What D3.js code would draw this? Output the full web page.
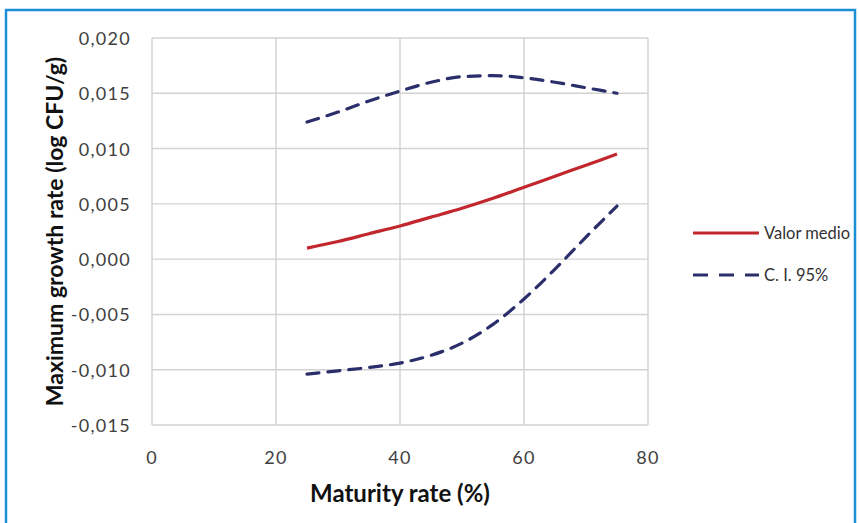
<!DOCTYPE html>
<html>
<head>
<meta charset="utf-8">
<script src="https://cdn.jsdelivr.net/npm/d3@7"></script>
<style>
  html, body { margin: 0; padding: 0; background: #fff; }
  svg { display: block; font-family: Lato, "Open Sans", sans-serif; }
</style>
</head>
<body>
<div id="chart"></div>
<script>
// Maturity rate (%) sampled every 5 points
const maturity = [25, 30, 35, 40, 45, 50, 55, 60, 65, 70, 75];
// mean growth rate
const valorMedio = [0.0010, 0.0016, 0.0023, 0.0030, 0.0038, 0.0046, 0.0055, 0.0065, 0.0075, 0.0085, 0.0095];
// 95% confidence interval bounds
const ciUpper = [0.0124, 0.0133, 0.0143, 0.0152, 0.0160, 0.0165, 0.0166, 0.0164, 0.0160, 0.0155, 0.0150];
const ciLower = [-0.0104, -0.0101, -0.0098, -0.0094, -0.0087, -0.0076, -0.0059, -0.0036, -0.0009, 0.0020, 0.0048];

const xTicks = [0, 20, 40, 60, 80];
const yTicks = [-0.015, -0.010, -0.005, 0.000, 0.005, 0.010, 0.015, 0.020];
const legendItems = [
  { label: "Valor medio", color: "#c1272d", dash: null },
  { label: "C. I. 95%", color: "#2a2e6a", dash: "15,11" }
];

const W = 859, H = 523;
const plot = { left: 152, right: 648, top: 38, bottom: 425 };

const svg = d3.select("#chart").append("svg")
  .attr("width", W).attr("height", H);

// outer blue frame
svg.append("rect")
  .attr("x", 6).attr("y", 10)
  .attr("width", W - 10).attr("height", H + 20)
  .attr("fill", "#fff")
  .attr("stroke", "#1b8fd5").attr("stroke-width", 2.5);

const x = d3.scaleLinear().domain([0, 80]).range([plot.left, plot.right]);
const y = d3.scaleLinear().domain([-0.015, 0.020]).range([plot.bottom, plot.top]);

// grid
const grid = svg.append("g").attr("class", "grid")
  .attr("stroke", "#d2d2d2").attr("stroke-width", 1.4);
grid.selectAll(".vline").data(xTicks).join("line")
  .attr("x1", d => x(d)).attr("x2", d => x(d))
  .attr("y1", plot.top).attr("y2", plot.bottom);
grid.selectAll(".hline").data(yTicks).join("line")
  .attr("x1", plot.left).attr("x2", plot.right)
  .attr("y1", d => y(d)).attr("y2", d => y(d));

// tick labels
const fmt = d => d3.format(".3f")(d).replace(".", ",").replace("−", "-");
svg.append("g").selectAll("text").data(yTicks).join("text")
  .attr("x", 131).attr("y", d => y(d))
  .attr("text-anchor", "end").attr("dominant-baseline", "central")
  .style("font-size", "18px").style("letter-spacing", "1.3px").style("fill", "#404040")
  .text(fmt);
svg.append("g").selectAll("text").data(xTicks).join("text")
  .attr("x", d => x(d)).attr("y", 457)
  .attr("text-anchor", "middle").attr("dominant-baseline", "central")
  .style("font-size", "18px").style("letter-spacing", "1.3px").style("fill", "#404040")
  .text(d => d);

// axis titles
svg.append("text")
  .attr("x", 400).attr("y", 492)
  .attr("text-anchor", "middle").attr("dominant-baseline", "central")
  .style("font-size", "24px").style("font-weight", "bold").style("fill", "#111")
  .text("Maturity rate (%)");
svg.append("text")
  .attr("transform", `translate(54,${(plot.top + plot.bottom) / 2}) rotate(-90)`)
  .attr("text-anchor", "middle").attr("dominant-baseline", "central")
  .style("font-size", "23px").style("font-weight", "bold").style("fill", "#111")
  .text("Maximum growth rate (log CFU/g)");

// series
const line = d3.line()
  .x((d, i) => x(maturity[i]))
  .y(d => y(d))
  .curve(d3.curveMonotoneX);

[[ciUpper, 1], [ciLower, 1], [valorMedio, 0]].forEach(([vals, li]) => {
  const it = legendItems[li];
  svg.append("path")
    .datum(vals)
    .attr("d", line)
    .attr("fill", "none")
    .attr("stroke", it.color)
    .attr("stroke-width", 3.2)
    .attr("stroke-dasharray", it.dash ? "12,9" : null)
    .attr("stroke-linecap", it.dash ? "round" : "butt");
});

// legend
const lg = svg.append("g").selectAll("g").data(legendItems).join("g")
  .attr("transform", (d, i) => `translate(693,${233 + i * 42})`);
lg.append("line")
  .attr("x1", 0).attr("x2", 66).attr("y1", 0).attr("y2", 0)
  .attr("stroke", d => d.color).attr("stroke-width", 3.2)
  .attr("stroke-dasharray", d => d.dash);
lg.append("text")
  .attr("x", 71).attr("y", 0).attr("dominant-baseline", "central")
  .style("font-size", "16.5px").style("fill", "#333")
  .text(d => d.label);
</script>
</body>
</html>
